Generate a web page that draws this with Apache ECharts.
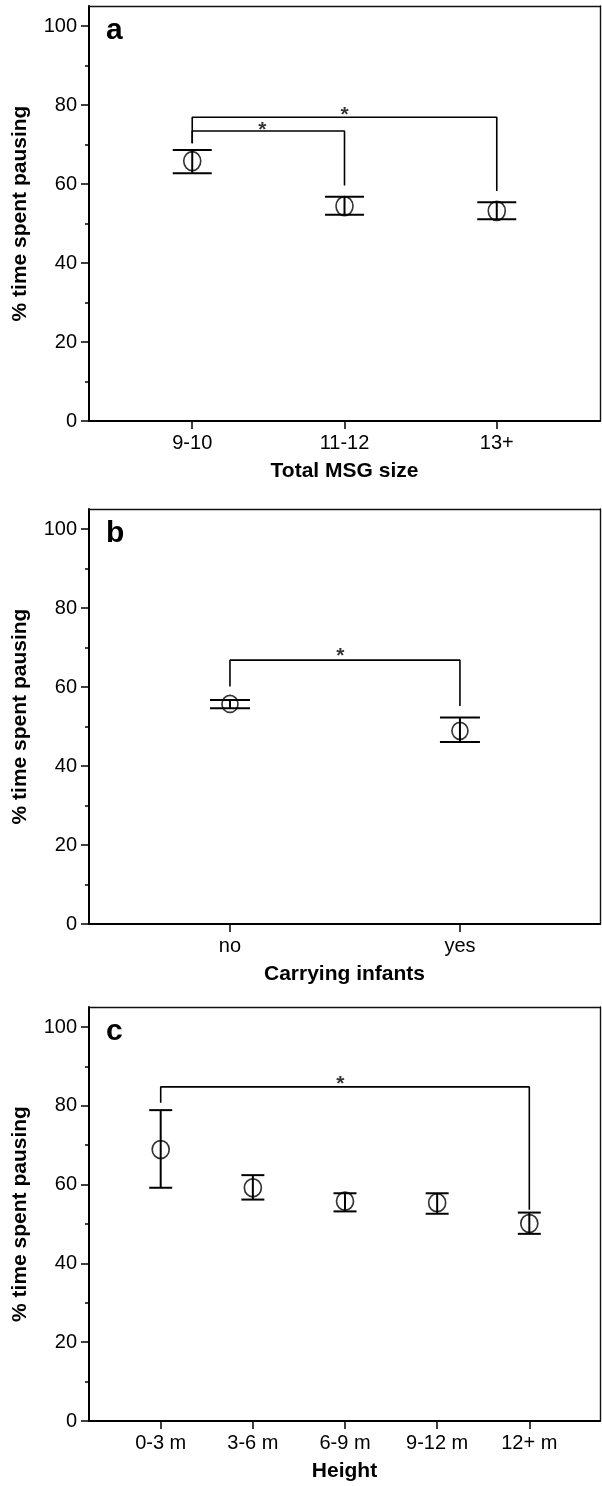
<!DOCTYPE html>
<html>
<head>
<meta charset="utf-8">
<script src="https://cdn.jsdelivr.net/npm/echarts@6/dist/echarts.min.js"></script>
<style>
html,body{margin:0;padding:0;background:#fff;}
#chart{width:602px;height:1486px;}
</style>
</head>
<body>
<div id="chart"></div>
<script>
// ---------- data ----------
const yTicks = [0, 20, 40, 60, 80, 100];
const yAxisTitle = '% time spent pausing';

// panel a
const catsA = ['9-10', '11-12', '13+'];
const meanA = [65.8, 54.4, 53.2];
const upperA = [68.6, 56.8, 55.4];
const lowerA = [62.7, 52.2, 51.1];
// brackets: [xLeft, yLeftEnd, xRight, yRightEnd, yTop]
const bracketsA = [[1, 70.3, 2, 59.6, 73.4], [1, 70.3, 3, 58.2, 76.9]];
const starsA = [[1.46, 75.1], [2.0, 79.0]];

// panel b
const catsB = ['no', 'yes'];
const meanB = [55.7, 48.9];
const upperB = [56.7, 52.3];
const lowerB = [54.6, 46.1];
const bracketsB = [[1, 60.1, 2, 55.2, 66.8]];
const starsB = [[1.48, 69.2]];

// panel c
const catsC = ['0-3 m', '3-6 m', '6-9 m', '9-12 m', '12+ m'];
const meanC = [68.9, 59.2, 55.8, 55.4, 50.1];
const upperC = [78.9, 62.4, 57.8, 57.8, 52.9];
const lowerC = [59.2, 56.2, 53.2, 52.6, 47.5];
const bracketsC = [[1, 80.8, 5, 53.6, 84.8]];
const starsC = [[2.95, 87.0]];

// ---------- layout ----------
const H = 1486;
const FONT = 'Liberation Sans, Arial, Helvetica, sans-serif';
const panels = [
  {cats: catsA, mean: meanA, upper: upperA, lower: lowerA, brackets: bracketsA, stars: starsA,
   xMin: 0.322, xMax: 3.678, top: 6, bottom: 421, name: 'Total MSG size', letter: 'a', capW: 39, sym: [17, 19]},
  {cats: catsB, mean: meanB, upper: upperB, lower: lowerB, brackets: bracketsB, stars: starsB,
   xMin: 0.387, xMax: 2.609, top: 509, bottom: 924, name: 'Carrying infants', letter: 'b', capW: 40, sym: [16, 17]},
  {cats: catsC, mean: meanC, upper: upperC, lower: lowerC, brackets: bracketsC, stars: starsC,
   xMin: 0.222, xMax: 5.767, top: 1007, bottom: 1421, name: 'Height', letter: 'c', capW: 23, sym: [17, 18]}
];

const grid = [], xAxis = [], yAxis = [], series = [], title = [];
const LEFT = 89, RIGHT = 2;

panels.forEach((p, i) => {
  const gFrame = grid.length;
  grid.push({left: LEFT, right: RIGHT, top: p.top, bottom: H - p.bottom, containLabel: false});
  const gData = grid.length;
  grid.push({left: LEFT, right: RIGHT, top: p.top + 20, bottom: H - p.bottom, containLabel: false});

  // frame axes
  xAxis.push({gridIndex: gFrame, type: 'value', min: 0, max: 1, position: 'bottom',
    axisLine: {show: true, onZero: false, lineStyle: {color: '#000', width: 2}}, axisTick: {show: false},
    axisLabel: {show: false}, splitLine: {show: false},
    name: p.name, nameLocation: 'middle', nameGap: 40,
    nameTextStyle: {fontFamily: FONT, fontSize: 21, fontWeight: 'bold', color: '#000'}});
  xAxis.push({gridIndex: gFrame, type: 'value', min: 0, max: 1, position: 'top',
    axisLine: {show: true, onZero: false, lineStyle: {color: '#111', width: 1.4}}, axisTick: {show: false},
    axisLabel: {show: false}, splitLine: {show: false}});
  yAxis.push({gridIndex: gFrame, type: 'value', min: 0, max: 1, position: 'left',
    axisLine: {show: true, onZero: false, lineStyle: {color: '#000', width: 2}}, axisTick: {show: false},
    axisLabel: {show: false}, splitLine: {show: false},
    name: yAxisTitle, nameLocation: 'middle', nameRotate: 90, nameGap: 58,
    nameTextStyle: {fontFamily: FONT, fontSize: 21, fontWeight: 'bold', color: '#000'}});
  yAxis.push({gridIndex: gFrame, type: 'value', min: 0, max: 1, position: 'right',
    axisLine: {show: true, onZero: false, lineStyle: {color: '#111', width: 1.4}}, axisTick: {show: false},
    axisLabel: {show: false}, splitLine: {show: false}});

  // data axes
  const ticks = p.cats.map((c, k) => k + 1);
  const xIdx = xAxis.length;
  xAxis.push({gridIndex: gData, type: 'value', min: p.xMin, max: p.xMax, position: 'bottom',
    axisLine: {show: false, onZero: false},
    axisTick: {show: true, customValues: ticks, length: 8, lineStyle: {color: '#000', width: 1.5}},
    axisLabel: {show: true, customValues: ticks, margin: 12, fontFamily: FONT, fontSize: 20, color: '#000',
      formatter: v => p.cats[Math.round(v) - 1] || ''},
    splitLine: {show: false}});
  const yIdx = yAxis.length;
  yAxis.push({gridIndex: gData, type: 'value', min: yTicks[0], max: yTicks[yTicks.length - 1], interval: 20, position: 'left',
    axisLine: {show: false, onZero: false},
    axisTick: {show: true, length: 8, lineStyle: {color: '#000', width: 1.5}},
    minorTick: {show: true, splitNumber: 2, length: 4, lineStyle: {color: '#000', width: 1.5}},
    axisLabel: {show: true, margin: 12, fontFamily: FONT, fontSize: 20, color: '#000'},
    splitLine: {show: false}, minorSplitLine: {show: false}});

  // error bars
  const capW = p.capW;
  series.push({type: 'custom', xAxisIndex: xIdx, yAxisIndex: yIdx, clip: false,
    data: p.cats.map((c, k) => [k + 1, p.mean[k], p.upper[k], p.lower[k]]),
    encode: {x: 0, y: [2, 3]},
    renderItem: (params, api) => {
      const x = api.value(0), hi = api.value(2), lo = api.value(3);
      const a = api.coord([x, hi]), b = api.coord([x, lo]);
      const hw = capW / 2;
      const st = {stroke: '#000', lineWidth: 2, fill: null};
      return {type: 'group', children: [
        {type: 'line', shape: {x1: a[0], y1: a[1], x2: b[0], y2: b[1]}, style: st},
        {type: 'line', shape: {x1: a[0] - hw, y1: a[1], x2: a[0] + hw, y2: a[1]}, style: st},
        {type: 'line', shape: {x1: b[0] - hw, y1: b[1], x2: b[0] + hw, y2: b[1]}, style: st}
      ]};
    }});
  // means
  series.push({type: 'scatter', xAxisIndex: xIdx, yAxisIndex: yIdx, symbol: 'circle', symbolSize: p.sym,
    itemStyle: {color: 'rgba(0,0,0,0)', borderColor: '#000', borderWidth: 1.7},
    data: p.cats.map((c, k) => [k + 1, p.mean[k]]), z: 5});
  // brackets
  p.brackets.forEach(br => {
    series.push({type: 'line', xAxisIndex: xIdx, yAxisIndex: yIdx, symbol: 'none', clip: false,
      lineStyle: {color: '#000', width: 1.6},
      data: [[br[0], br[1]], [br[0], br[4]], [br[2], br[4]], [br[2], br[3]]]});
  });
  // stars
  series.push({type: 'scatter', xAxisIndex: xIdx, yAxisIndex: yIdx, symbolSize: 0,
    data: p.stars,
    label: {show: true, position: 'inside', formatter: '*', offset: [0, 6],
      fontFamily: FONT, fontSize: 21, fontWeight: 'bold', color: '#000'}});

  title.push({text: p.letter, left: 106, top: p.top + 10,
    textStyle: {fontFamily: FONT, fontSize: 30, fontWeight: 'bold', color: '#000'}, padding: 0});
});

const chart = echarts.init(document.getElementById('chart'), null, {renderer: 'canvas'});
chart.setOption({animation: false, backgroundColor: '#fff', title, grid, xAxis, yAxis, series});
</script>
</body>
</html>
